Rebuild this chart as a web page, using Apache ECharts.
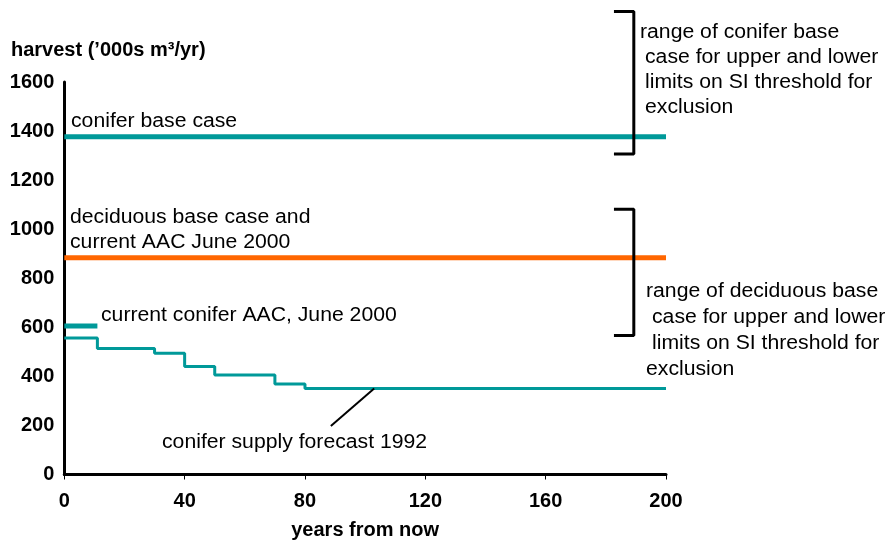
<!DOCTYPE html>
<html>
<head>
<meta charset="utf-8">
<script src="https://cdn.jsdelivr.net/npm/echarts@6/dist/echarts.min.js"></script>
<style>html,body{margin:0;padding:0;background:#fff;}#c{width:890px;height:540px;}</style>
</head>
<body>
<div id="c"></div>
<script>
// ---- data ----
var xTicks = [0, 40, 80, 120, 160, 200];
var yTicks = [0, 200, 400, 600, 800, 1000, 1200, 1400, 1600];
var coniferBaseYears = [0, 200];
var coniferBaseValues = [1377, 1377];
var deciduousBaseYears = [0, 200];
var deciduousBaseValues = [884, 884];
var aacYears = [0, 11];
var aacValues = [605, 605];
var forecastYears = [0, 11, 30, 40, 50, 70, 80, 200];
var forecastValues = [556, 514, 494, 440, 406, 369, 351, 351];
var pointerYears = [103, 88.6];
var pointerValues = [351, 198];
var coniferRangeYears = [182.7, 189.3, 189.3, 182.7];
var coniferRangeValues = [1887, 1887, 1306, 1306];
var deciduousRangeYears = [182.7, 189.3, 189.3, 182.7];
var deciduousRangeValues = [1081, 1081, 567, 567];

function pairs(xs, ys) { return xs.map(function (x, i) { return [x, ys[i]]; }); }

var FONT = '"Liberation Sans", Arial, sans-serif';
var TEAL = '#009999';
var ORANGE = '#FF6600';

var chart = echarts.init(document.getElementById('c'), null, { renderer: 'canvas' });

function txt(t, x, y, bold) {
  return {
    type: 'text', x: x, y: y, scaleX: bold ? 1.0 : 1.06,
    style: { text: t, font: (bold ? 'bold ' : '') + '20px ' + FONT, fill: '#000', verticalAlign: 'middle', align: 'left' },
    z: 100
  };
}

var option = {
  animation: false,
  backgroundColor: '#fff',
  grid: { left: 64.3, right: 224, top: 82, bottom: 65.5, containLabel: false, outerBoundsMode: 'none' },
  xAxis: {
    type: 'value', min: 0, max: 200, interval: 40,
    name: 'years from now', nameLocation: 'middle', nameGap: 46,
    nameTextStyle: { fontFamily: FONT, fontSize: 20, fontWeight: 'bold', color: '#000' },
    axisLine: { show: true, onZero: false, lineStyle: { color: '#000', width: 3 } },
    axisTick: { show: true, length: 5, lineStyle: { color: '#000', width: 1 } },
    axisLabel: { fontFamily: FONT, fontSize: 20, fontWeight: 'bold', color: '#000', margin: 17,
      formatter: function (v) { return String(v); } },
    splitLine: { show: false }
  },
  yAxis: {
    type: 'value', min: 0, max: 1600, interval: 200,
    axisLine: { show: true, onZero: false, lineStyle: { color: '#000', width: 3 } },
    axisTick: { show: false },
    axisLabel: { fontFamily: FONT, fontSize: 20, fontWeight: 'bold', color: '#000', margin: 10,
      formatter: function (v) { return String(v); } },
    splitLine: { show: false }
  },
  series: [
    { type: 'line', data: pairs(coniferBaseYears, coniferBaseValues), symbol: 'none', clip: false,
      lineStyle: { color: TEAL, width: 5 }, z: 3 },
    { type: 'line', data: pairs(deciduousBaseYears, deciduousBaseValues), symbol: 'none', clip: false,
      lineStyle: { color: ORANGE, width: 5 }, z: 3 },
    { type: 'line', data: pairs(aacYears, aacValues), symbol: 'none', clip: false,
      lineStyle: { color: TEAL, width: 5 }, z: 3 },
    { type: 'line', step: 'end', data: pairs(forecastYears, forecastValues), symbol: 'none', clip: false,
      lineStyle: { color: TEAL, width: 3 }, z: 3 },
    { type: 'line', data: pairs(pointerYears, pointerValues), symbol: 'none', clip: false,
      lineStyle: { color: '#000', width: 2 }, z: 4 },
    { type: 'line', data: pairs(coniferRangeYears, coniferRangeValues), symbol: 'none', clip: false,
      lineStyle: { color: '#000', width: 3 }, z: 5 },
    { type: 'line', data: pairs(deciduousRangeYears, deciduousRangeValues), symbol: 'none', clip: false,
      lineStyle: { color: '#000', width: 3 }, z: 5 }
  ],
  graphic: [
    txt('harvest (\u2019000s m\u00b3/yr)', 11, 50, true),
    txt('conifer base case', 71, 121, false),
    txt('deciduous base case and', 70, 217, false),
    txt('current AAC June 2000', 70, 242, false),
    txt('current conifer AAC, June 2000', 101, 315, false),
    txt('conifer supply forecast 1992', 162, 442, false),
    txt('range of conifer base', 640, 32, false),
    txt('case for upper and lower', 645, 57, false),
    txt('limits on SI threshold for', 645, 82, false),
    txt('exclusion', 645, 107, false),
    txt('range of deciduous base', 646, 291, false),
    txt('case for upper and lower', 652, 317, false),
    txt('limits on SI threshold for', 652, 343, false),
    txt('exclusion', 646, 369, false)
  ]
};
chart.setOption(option);
</script>
</body>
</html>
